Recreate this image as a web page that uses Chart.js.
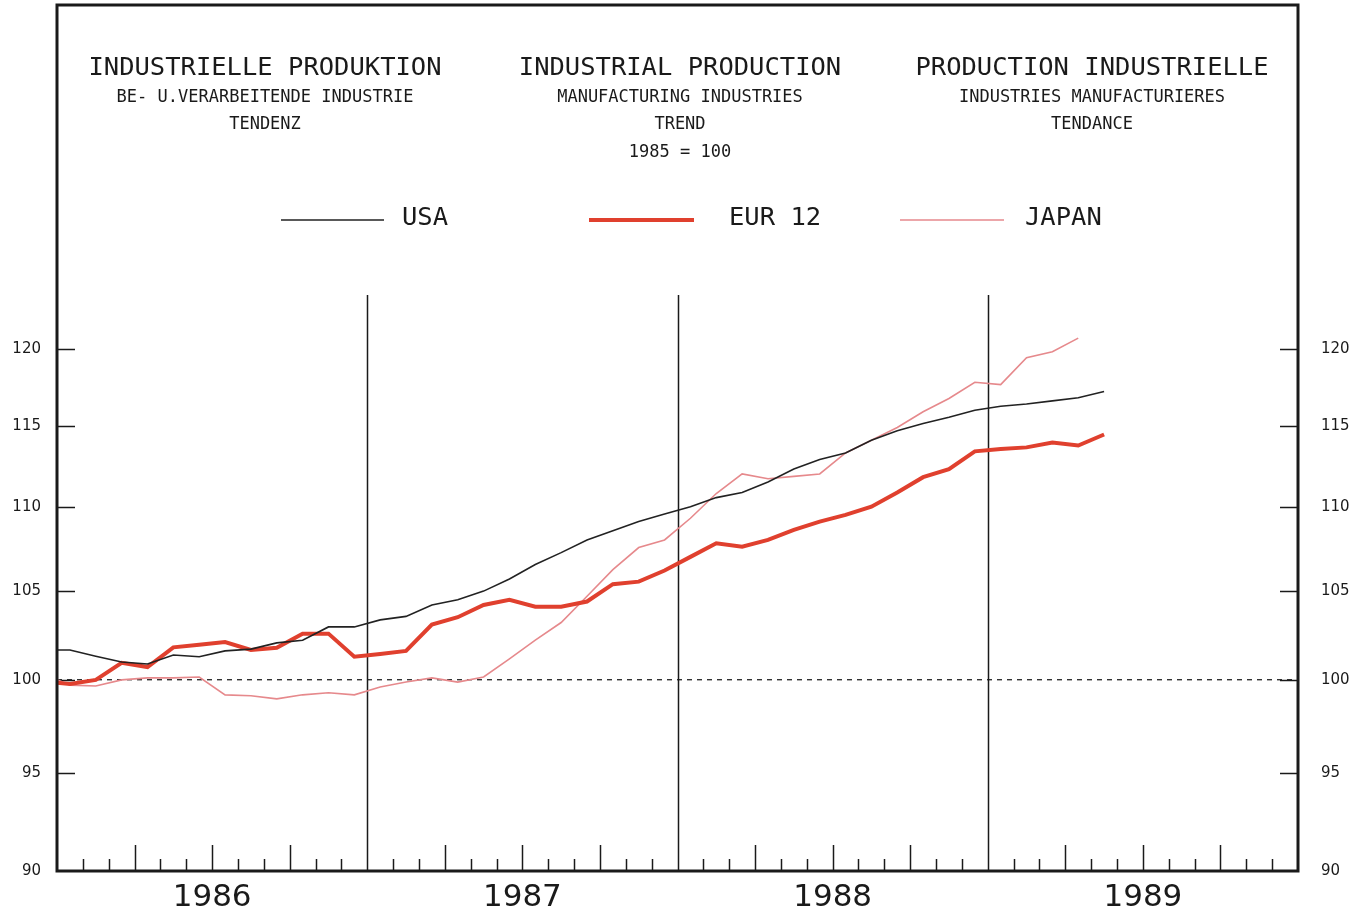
<!DOCTYPE html>
<html><head><meta charset="utf-8">
<script src="https://cdn.jsdelivr.net/npm/chart.js@4.4.0/dist/chart.umd.min.js"></script>
<style>html,body{margin:0;padding:0;background:#fff;overflow:hidden}canvas{display:block}</style>
</head><body>
<canvas id="c" width="1364" height="914"></canvas>
<script>
// ---- data (monthly, index 1985 = 100, log scale) ----
const monthLabels = ['1985-12',
 '1986-01','1986-02','1986-03','1986-04','1986-05','1986-06','1986-07','1986-08','1986-09','1986-10','1986-11','1986-12',
 '1987-01','1987-02','1987-03','1987-04','1987-05','1987-06','1987-07','1987-08','1987-09','1987-10','1987-11','1987-12',
 '1988-01','1988-02','1988-03','1988-04','1988-05','1988-06','1988-07','1988-08','1988-09','1988-10','1988-11','1988-12',
 '1989-01','1989-02','1989-03','1989-04','1989-05'];
const usa = [101.65,101.65,101.3,100.98,100.87,101.37,101.27,101.6,101.7,102.05,102.2,102.95,102.95,
 103.35,103.55,104.2,104.5,105.0,105.7,106.55,107.25,108.0,108.55,109.1,109.55,
 110.0,110.55,110.86,111.5,112.3,112.9,113.3,114.1,114.7,115.15,115.55,116.0,
 116.25,116.4,116.6,116.8,117.2];
const eur12 = [99.9,99.76,99.99,100.93,100.7,101.8,101.95,102.1,101.65,101.77,102.57,102.57,101.27,
 101.43,101.6,103.08,103.5,104.2,104.5,104.1,104.1,104.4,105.4,105.55,106.2,
 107.0,107.8,107.6,108.0,108.6,109.1,109.5,110.0,110.86,111.8,112.3,113.4,
 113.55,113.65,113.96,113.77,114.46];
const japan = [100.3,99.7,99.65,99.99,100.1,100.1,100.15,99.17,99.12,98.95,99.17,99.28,99.17,
 99.6,99.87,100.1,99.87,100.15,101.15,102.2,103.2,104.7,106.25,107.55,108.0,
 109.3,110.8,112.0,111.7,111.85,112.0,113.3,114.1,114.9,115.9,116.75,117.8,
 117.65,119.4,119.8,120.7];
const seriesNames = ['USA','EUR 12','JAPAN'];
const yearLabels = ['1986','1987','1988','1989'];
const yTickValues = [90,95,100,105,110,115,120];
const firstYear = 1986;
const titleLines = [
 ['INDUSTRIELLE PRODUKTION','BE- U.VERARBEITENDE INDUSTRIE','TENDENZ'],
 ['INDUSTRIAL PRODUCTION','MANUFACTURING INDUSTRIES','TREND','1985 = 100'],
 ['PRODUCTION INDUSTRIELLE','INDUSTRIES MANUFACTURIERES','TENDANCE']
];

// month label -> position on month axis (mid-month)
function monthPos(lbl){const [y,m]=lbl.split('-').map(Number);return (y-firstYear)*12+(m-1)+0.5;}
function pts(vals){return vals.map((v,i)=>({x:monthPos(monthLabels[i]),y:v}));}

const INK='#1a1a1a';

const decor = {
  id:'decor',
  beforeDatasetsDraw(chart){
    const {ctx,chartArea:a,scales:{x,y}}=chart;
    ctx.save();
    // dashed reference line at 100
    ctx.strokeStyle='#333';ctx.lineWidth=1.4;ctx.setLineDash([5,5]);
    const y100=y.getPixelForValue(100);
    ctx.beginPath();ctx.moveTo(a.left,y100);ctx.lineTo(a.right,y100);ctx.stroke();
    ctx.setLineDash([]);
    ctx.strokeStyle=INK;ctx.lineWidth=1.5;
    // year separators and month ticks
    for(let m=1;m<48;m++){
      const px=Math.round(x.getPixelForValue(m))+0.5;
      ctx.beginPath();
      if(m%12===0){ctx.moveTo(px,a.top);} else {ctx.moveTo(px,a.bottom-(m%3===0?26:12));}
      ctx.lineTo(px,a.bottom);ctx.stroke();
    }
    // y tick marks inside both axes
    yTickValues.forEach(v=>{
      if(v===90) return;
      const py=Math.round(y.getPixelForValue(v))+0.5;
      ctx.beginPath();ctx.moveTo(a.left,py);ctx.lineTo(a.left+18,py);ctx.stroke();
      ctx.beginPath();ctx.moveTo(a.right-18,py);ctx.lineTo(a.right,py);ctx.stroke();
    });
    ctx.restore();
  },
  afterDatasetsDraw(chart){
    const {ctx,chartArea:a}=chart;
    ctx.save();
    ctx.strokeStyle=INK;ctx.lineWidth=3;
    ctx.strokeRect(a.left,5,a.right-a.left,a.bottom-5);
    ctx.restore();
  },
  afterDraw(chart){
    const {ctx}=chart;
    ctx.save();
    ctx.fillStyle=INK;ctx.textAlign='center';ctx.textBaseline='middle';
    const centers=[265,680,1092];
    const rowsY=[68,98,125,153];
    titleLines.forEach((lines,i)=>{
      lines.forEach((t,j)=>{
        ctx.font=(j===0?'25.5px':'17px')+' "DejaVu Sans Mono"';
        ctx.fillText(t,centers[i],rowsY[j]);
      });
    });
    // legend
    const lg=[[281,384,402],[589,694,729],[900,1004,1025]];
    chart.data.datasets.forEach((ds,i)=>{
      const [x1,x2,tx]=lg[i];
      ctx.strokeStyle=ds.borderColor;ctx.lineWidth=ds.borderWidth;
      ctx.beginPath();ctx.moveTo(x1,220);ctx.lineTo(x2,220);ctx.stroke();
      ctx.fillStyle=INK;ctx.textAlign='left';ctx.font='25.5px "DejaVu Sans Mono"';
      ctx.fillText(ds.label,tx,218);
    });
    ctx.restore();
  }
};

const yCommon = {
  type:'logarithmic', min:90, max:123.6,
  grid:{display:false,drawTicks:false}, border:{display:false},
  afterBuildTicks(s){s.ticks=yTickValues.map(v=>({value:v}));},
};

new Chart(document.getElementById('c'),{
  type:'line',
  data:{datasets:[
    {label:seriesNames[0],data:pts(usa),borderColor:'#222',borderWidth:1.6,pointRadius:0,tension:0},
    {label:seriesNames[1],data:pts(eur12),borderColor:'#e0402e',borderWidth:4,pointRadius:0,tension:0},
    {label:seriesNames[2],data:pts(japan),borderColor:'#e6898c',borderWidth:1.6,pointRadius:0,tension:0}
  ]},
  options:{
    responsive:false,animation:false,devicePixelRatio:1,
    layout:{padding:{top:295,left:0,right:0,bottom:0}},
    plugins:{legend:{display:false},tooltip:{enabled:false}},
    scales:{
      x:{type:'linear',min:0,max:48,
        grid:{display:false,drawTicks:false},border:{display:false},
        afterBuildTicks(s){s.ticks=yearLabels.map((_,i)=>({value:i*12+6}));},
        afterFit(s){s.height=43;},
        ticks:{autoSkip:false,maxRotation:0,padding:8,color:INK,
          font:{family:'DejaVu Sans',size:31},
          callback:(v)=>yearLabels[Math.round((v-6)/12)]}},
      y:Object.assign({},yCommon,{position:'left',
        afterFit(s){s.width=57;},
        ticks:{padding:16,color:INK,font:{family:'DejaVu Sans',size:15},callback:v=>String(v)}}),
      y2:Object.assign({},yCommon,{position:'right',
        afterFit(s){s.width=66;},
        ticks:{padding:23,color:INK,font:{family:'DejaVu Sans',size:15},callback:v=>String(v)}})
    }
  },
  plugins:[decor]
});
</script>
</body></html>
